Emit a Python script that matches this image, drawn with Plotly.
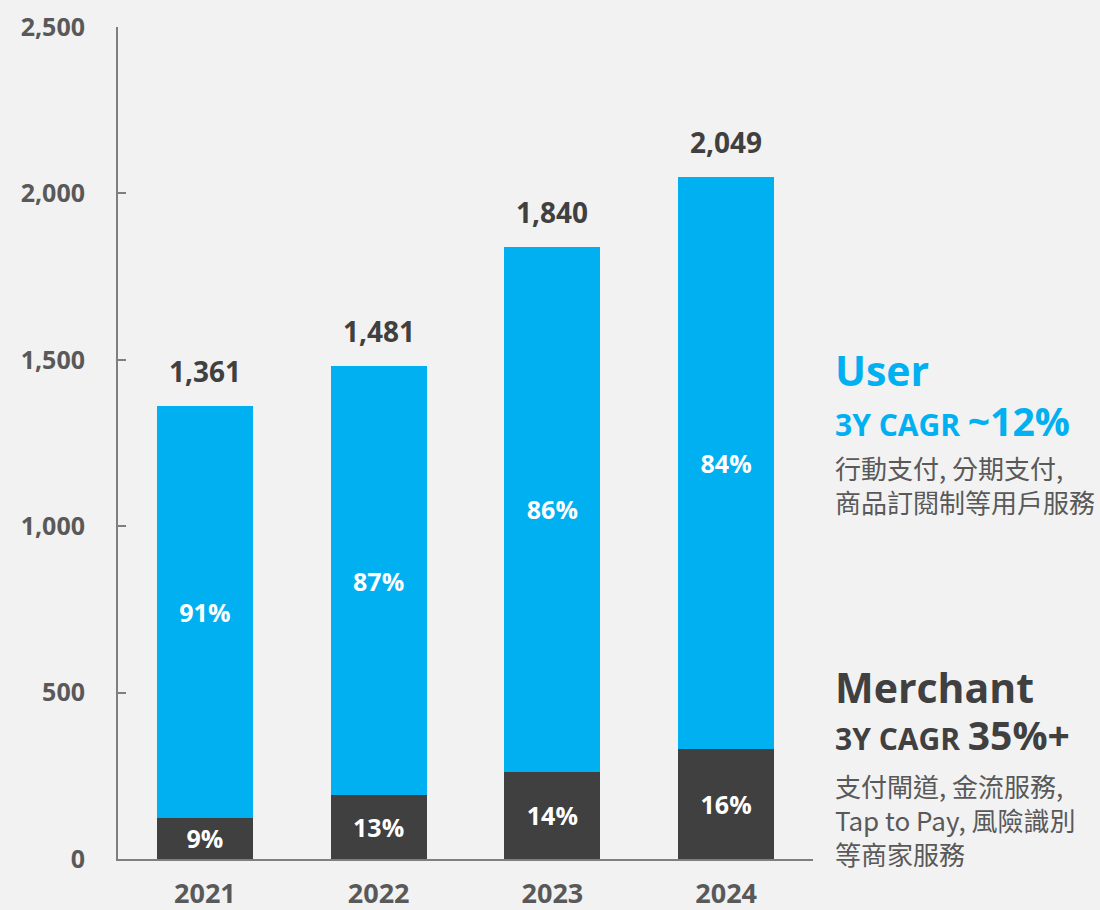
import plotly.graph_objects as go

years = ["2021", "2022", "2023", "2024"]
totals = [1361, 1481, 1840, 2049]
merchant = [124, 191, 262, 331]
user = [t - m for t, m in zip(totals, merchant)]
merchant_pct = ["9%", "13%", "14%", "16%"]
user_pct = ["91%", "87%", "86%", "84%"]
y_ticks = [0, 500, 1000, 1500, 2000, 2500]

BLUE = "#00b0f0"
DARK = "#404040"
GREY = "#595959"
BG = "#f2f2f2"
FONT = "Open Sans, Noto Sans CJK TC, sans-serif"
CJK = "Noto Sans CJK TC, sans-serif"

fig = go.Figure()

for vals, pct, color, name in [(merchant, merchant_pct, DARK, "Merchant"),
                               (user, user_pct, BLUE, "User")]:
    fig.add_trace(go.Bar(
        x=years, y=vals, name=name, marker=dict(color=color, line=dict(width=0)),
        text=pct, textposition="inside", insidetextanchor="middle",
        textangle=0, constraintext="none",
        textfont=dict(color="white", size=25, family=FONT, weight="bold"),
        width=0.553,
    ))

# totals above bars (x given as category index)
for i, t in enumerate(totals):
    fig.add_annotation(
        x=i, y=t, text=f"{t:,}", showarrow=False, yanchor="bottom", yshift=14,
        font=dict(size=28, color=DARK, family=FONT, weight="bold"),
    )

# right-hand commentary
def side(y_px, text, size, color, family=FONT, weight="bold"):
    fig.add_annotation(
        xref="paper", yref="paper", x=(833 - 118) / 695, y=(859 - y_px) / 832,
        xanchor="left", yanchor="middle", showarrow=False, align="left",
        text=text, font=dict(size=size, color=color, family=family, weight=weight),
    )

side(370, "User", 41, BLUE)
side(420, "3Y CAGR <span style='font-size:39px'>~12%</span>", 30, BLUE)
side(484, "行動支付, 分期支付,<br>商品訂閱制等用戶服務", 26, GREY, CJK, "normal")

side(687, "Merchant", 41, DARK)
side(734, "3Y CAGR <span style='font-size:39px'>35%+</span>", 30, DARK)
side(819, "支付閘道, 金流服務,<br>Tap to Pay, 風險識別<br>等商家服務", 26, GREY, CJK, "normal")

fig.update_layout(
    barmode="stack",
    width=1100, height=910,
    margin=dict(l=118, r=287, t=27, b=51),
    paper_bgcolor=BG, plot_bgcolor=BG,
    showlegend=False,
    font=dict(family=FONT),
    xaxis=dict(
        type="category", range=[-0.5, 3.5], showgrid=False, automargin=False,
        showline=True, linecolor="#7f7f7f", linewidth=2,
        ticks="", tickfont=dict(size=27, color=GREY, family=FONT, weight="bold"),
        ticklabelstandoff=10,
    ),
    yaxis=dict(
        range=[0, 2500], tickvals=y_ticks, tickformat=",", showgrid=False, zeroline=False,
        showline=True, linecolor="#7f7f7f", linewidth=2, automargin=False,
        ticks="inside", ticklen=8, tickwidth=2, tickcolor="#7f7f7f",
        ticklabelstandoff=26,
        tickfont=dict(size=25, color=GREY, family=FONT, weight="bold"),
    ),
)

fig.write_html("out.html", config={"displayModeBar": False},
               post_script="document.body.style.margin='0';")
